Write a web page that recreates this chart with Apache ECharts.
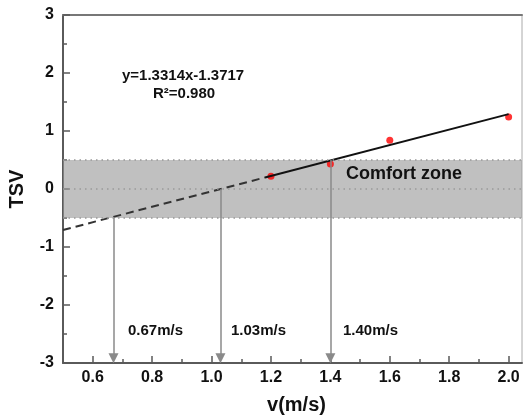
<!DOCTYPE html>
<html>
<head>
<meta charset="utf-8">
<script src="https://cdn.jsdelivr.net/npm/echarts@6/dist/echarts.min.js"></script>
<style>
html,body{margin:0;padding:0;background:#fff;}
#chart{width:523px;height:417px;}
</style>
</head>
<body>
<div id="chart"></div>
<script>
// ---- data ----
const pointsX = [1.2, 1.4, 1.6, 2.0];
const pointsY = [0.22, 0.43, 0.84, 1.24];
const fitSolidX = [1.18, 2.0];
const fitSolidY = [0.199, 1.291];
const fitDashX = [0.5, 1.18];
const fitDashY = [-0.706, 0.199];
const bandRange = [-0.5, 0.5];
const dottedLevels = [0.5, 0, -0.5];
const arrowX = [0.67, 1.03, 1.40];
const arrowTopY = [-0.5, 0, 0.5];
const arrowLabels = ['0.67m/s', '1.03m/s', '1.40m/s'];
const xTicks = [0.6, 0.8, 1.0, 1.2, 1.4, 1.6, 1.8, 2.0];
const xMinorTicks = [0.7, 0.9, 1.1, 1.3, 1.5, 1.7, 1.9];
const equationText = 'y=1.3314x-1.3717';
const r2Text = 'R\u00B2=0.980';
const zoneText = 'Comfort zone';

const FONT = 'Arial, "Liberation Sans", sans-serif';
const AX = '#5a5a5a';
const ARROW_BASE = -2.92;

const chart = echarts.init(document.getElementById('chart'));

const arrowLabelLeft = [128, 231, 343];

const option = {
  animation: false,
  backgroundColor: '#fff',
  grid: { left: 63, top: 15, right: 1, bottom: 54, outerBoundsMode: 'none', containLabel: false, show: true, borderColor: '#aaa', borderWidth: 1, backgroundColor: 'transparent' },
  xAxis: [
    {
      type: 'value', min: 0.5, max: 2.045, position: 'bottom',
      axisLine: { show: true, onZero: false, lineStyle: { color: AX, width: 2 } },
      axisTick: { show: true, inside: true, length: 7, customValues: xTicks, lineStyle: { color: AX, width: 1.5 } },
      axisLabel: { show: true, customValues: xTicks, formatter: v => v.toFixed(1), fontFamily: FONT, fontWeight: 'bold', fontSize: 16, color: '#111', margin: 7 },
      splitLine: { show: false },
      name: 'v(m/s)', nameLocation: 'middle', nameGap: 32,
      nameTextStyle: { fontFamily: FONT, fontWeight: 'bold', fontSize: 20, color: '#111', padding: [0, 0, 0, 8] }
    },
    {
      type: 'value', min: 0.5, max: 2.045, position: 'bottom',
      axisLine: { show: false, onZero: false },
      axisTick: { show: true, inside: true, length: 4, customValues: xMinorTicks, lineStyle: { color: AX, width: 1.5 } },
      axisLabel: { show: false, customValues: xMinorTicks },
      splitLine: { show: false }
    },
    {
      type: 'value', min: 0.5, max: 2.045, position: 'top',
      axisLine: { show: true, onZero: false, lineStyle: { color: '#777', width: 2 } },
      axisTick: { show: false }, axisLabel: { show: false }, splitLine: { show: false }
    }
  ],
  yAxis: {
    type: 'value', min: -3, max: 3, interval: 1,
    axisLine: { show: true, onZero: false, lineStyle: { color: AX, width: 2 } },
    axisTick: { show: true, inside: true, length: 7, lineStyle: { color: AX, width: 1.5 } },
    minorTick: { show: true, splitNumber: 2, length: 4, lineStyle: { color: AX, width: 1.5 } },
    axisLabel: { fontFamily: FONT, fontWeight: 'bold', fontSize: 16, color: '#111', margin: 9 },
    splitLine: { show: false },
    name: 'TSV', nameLocation: 'middle', nameGap: 36, nameRotate: 90,
    nameTextStyle: { fontFamily: FONT, fontWeight: 'bold', fontSize: 20, color: '#111' }
  },
  series: [
    {
      type: 'scatter', z: 1, symbol: 'circle', symbolSize: 7,
      itemStyle: { color: '#ff0000' },
      data: pointsX.map((x, i) => [x, pointsY[i]])
    },
    {
      type: 'line', z: 2, data: [], silent: true,
      markArea: {
        silent: true,
        itemStyle: { color: 'rgba(150,150,150,0.6)' },
        data: [[{ yAxis: bandRange[1] }, { yAxis: bandRange[0] }]]
      },
      markLine: {
        silent: true, symbol: ['none', 'none'], label: { show: false },
        lineStyle: { color: '#999', type: [1.5, 4], width: 1.5 },
        data: dottedLevels.map(v => ({ yAxis: v }))
      }
    },
    {
      type: 'line', z: 3, symbol: 'none',
      data: fitDashX.map((x, i) => [x, fitDashY[i]]),
      lineStyle: { color: '#333', width: 2, type: [8, 5] }
    },
    {
      type: 'line', z: 3, symbol: 'none',
      lineStyle: { color: '#111', width: 2 },
      data: fitSolidX.map((x, i) => [x, fitSolidY[i]])
    },
    {
      type: 'line', z: 4, data: [], silent: true,
      markLine: {
        silent: true, symbol: ['none', 'triangle'], symbolSize: 10,
        label: { show: false },
        lineStyle: { color: '#8a8a8a', width: 1.5, type: 'solid' },
        itemStyle: { color: '#8a8a8a' },
        data: arrowX.map((x, i) => [{ coord: [x, arrowTopY[i]] }, { coord: [x, ARROW_BASE] }])
      }
    }
  ],
  graphic: [
    { type: 'text', left: 122, top: 68, style: { text: equationText, font: 'bold 15px ' + FONT, fill: '#111' } },
    { type: 'text', left: 153, top: 86, style: { text: r2Text, font: 'bold 15px ' + FONT, fill: '#111' } },
    { type: 'text', left: 346, top: 165, z: 10, style: { text: zoneText, font: 'bold 18px ' + FONT, fill: '#111' } }
  ].concat(arrowLabels.map((t, i) => ({
    type: 'text', left: arrowLabelLeft[i], top: 323, style: { text: t, font: 'bold 15px ' + FONT, fill: '#111' }
  })))
};

chart.setOption(option);
</script>
</body>
</html>
